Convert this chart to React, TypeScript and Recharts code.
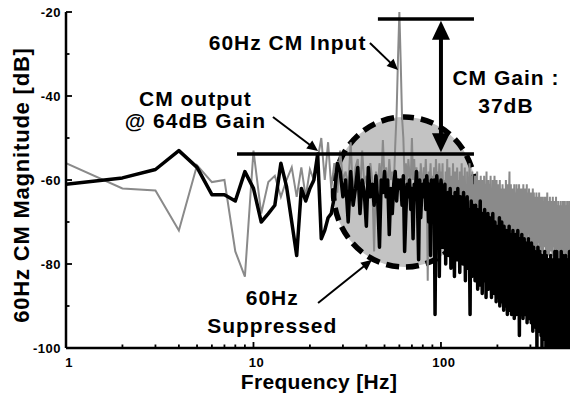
import React from 'react'
import { LineChart, Line, XAxis, YAxis, ReferenceLine, ReferenceDot } from 'recharts'

// FFT bins are 1 Hz apart, first bin = 1 Hz
const BIN_HZ = 1

// 60Hz CM input spectrum (gray), dB, bins 1..500
const CM_INPUT = [
  -56, -62, -62.5, -72, -56.5, -60.5, -60, -77, -83, -53,
  -68, -60.5, -59, -64, -60, -57, -64, -57, -64, -57.5,
  -60, -55, -50, -60, -51, -62, -56, -63, -53, -60,
  -58, -62, -51, -64, -57, -55, -63, -53, -61, -59,
  -62, -56, -60, -77, -58, -62, -56, -61, -50.5, -60,
  -57, -63, -55, -60, -58, -62, -52, -44, -31, -20,
  -32, -45, -50, -60, -56, -62, -55, -59, -60, -50,
  -60, -55, -63, -57, -61, -58, -64, -56, -60, -62,
  -57, -60, -55, -62, -84, -58, -61, -56, -63, -59,
  -61, -57, -64, -55, -60, -58, -62, -56, -60, -58,
  -62, -56, -68, -60, -71, -58, -65, -55, -69, -61,
  -57, -66, -72, -59, -63, -56, -70, -62, -58, -67,
  -64, -57, -71, -60, -66, -58, -69, -62, -56, -65,
  -70, -59, -63, -57, -68, -61, -72, -58, -64, -60,
  -67, -56, -62, -70, -59, -65, -58, -71, -61, -63,
  -66, -59, -72, -61, -68, -58, -70, -63, -60, -73,
  -62, -67, -59, -71, -64, -60, -74, -62, -69, -59,
  -65, -72, -61, -68, -58, -70, -63, -84, -60, -66,
  -73, -61, -67, -59, -71, -64, -62, -74, -60, -68,
  -63, -70, -59, -66, -72, -61, -65, -60, -73, -62,
  -68, -61, -74, -64, -70, -60, -66, -75, -62, -69,
  -65, -73, -61, -67, -71, -63, -76, -62, -68, -64,
  -72, -60, -66, -74, -63, -69, -61, -75, -65, -70,
  -62, -58, -71, -64, -68, -61, -73, -66, -75, -63,
  -69, -62, -70, -65, -74, -61, -67, -72, -64, -76,
  -63, -68, -61, -71, -66, -74, -62, -69, -65, -73,
  -61, -70, -64, -75, -62, -68, -72, -63, -66, -74,
  -62, -69, -65, -73, -61, -70, -67, -76, -63, -71,
  -66, -62, -74, -68, -64, -72, -61, -75, -67, -70,
  -63, -73, -65, -69, -62, -76, -68, -64, -71, -66,
  -74, -63, -70, -66, -77, -64, -72, -68, -62, -75,
  -67, -71, -63, -76, -69, -65, -73, -78, -64, -70,
  -66, -74, -63, -71, -68, -77, -65, -72, -69, -64,
  -75, -67, -70, -63, -78, -66, -73, -69, -64, -76,
  -68, -72, -65, -77, -70, -64, -74, -67, -71, -66,
  -78, -65, -69, -73, -64, -76, -68, -71, -66, -75,
  -70, -64, -77, -67, -72, -65, -74, -69, -63, -78,
  -68, -73, -66, -76, -70, -65, -72, -78, -67, -71,
  -64, -75, -69, -73, -66, -77, -70, -65, -74, -68,
  -72, -66, -78, -69, -64, -75, -71, -67, -76, -70,
  -66, -74, -69, -79, -65, -72, -77, -68, -75, -70,
  -64, -78, -71, -67, -76, -69, -80, -66, -73, -70,
  -75, -65, -72, -79, -68, -74, -66, -77, -70, -73,
  -67, -80, -69, -75, -65, -72, -78, -68, -74, -71,
  -66, -76, -70, -79, -67, -73, -65, -77, -71, -74,
  -68, -80, -66, -72, -76, -69, -78, -65, -74, -70,
  -73, -67, -79, -71, -66, -75, -69, -80, -68, -72,
  -65, -77, -70, -74, -67, -79, -72, -66, -76, -69,
  -71, -78, -65, -73, -80, -68, -75, -70, -66, -77,
  -72, -67, -79, -69, -74, -65, -78, -71, -68, -76,
]

// CM output spectrum (black), dB, bins 1..500
const CM_OUTPUT = [
  -61, -59.5, -57.5, -53, -57, -63.5, -63.5, -65, -58, -62,
  -70, -68, -66, -56, -61.5, -70, -78, -62, -65, -62,
  -60, -53.8, -74, -72, -69, -68, -64, -56, -58, -64,
  -60, -70, -58, -66, -62, -57, -68, -60, -63, -71,
  -57, -64, -61, -66, -59, -65, -76, -60, -63, -58,
  -64, -60, -73, -62, -68, -61, -58, -65, -60, -62,
  -60, -66, -59, -77, -68, -61, -64, -60, -67, -62,
  -74, -61, -63, -58, -66, -79, -60, -69, -63, -61,
  -64, -60, -67, -59, -63, -70, -61, -78, -60, -66,
  -62, -60, -92, -65, -59, -63, -61, -83, -64, -60,
  -62, -76, -65, -71, -61, -80, -66, -73, -63, -78,
  -68, -62, -81, -70, -64, -76, -67, -83, -63, -72,
  -66, -79, -62, -74, -69, -82, -64, -77, -70, -65,
  -80, -63, -73, -68, -84, -66, -75, -64, -81, -70,
  -67, -78, -92, -69, -65, -83, -72, -66, -80, -71,
  -68, -84, -66, -76, -81, -67, -86, -71, -69, -82,
  -74, -65, -85, -77, -70, -87, -68, -79, -74, -84,
  -67, -81, -72, -88, -70, -77, -83, -68, -86, -73,
  -78, -69, -85, -75, -71, -88, -74, -80, -68, -84,
  -76, -72, -87, -70, -81, -74, -89, -71, -79, -85,
  -72, -88, -75, -82, -69, -90, -77, -73, -86, -79,
  -70, -89, -76, -83, -74, -91, -71, -81, -87, -75,
  -78, -90, -72, -84, -79, -92, -74, -88, -77, -82,
  -71, -91, -80, -75, -89, -73, -85, -92, -76, -83,
  -79, -72, -90, -81, -74, -93, -77, -86, -80, -73,
  -88, -78, -92, -75, -84, -90, -72, -82, -91, -76,
  -85, -97, -79, -74, -89, -82, -92, -77, -87, -73,
  -90, -80, -76, -93, -84, -78, -91, -74, -88, -81,
  -77, -92, -85, -75, -90, -82, -79, -94, -76, -86,
  -80, -91, -74, -88, -83, -93, -78, -86, -92, -77,
  -87, -79, -94, -75, -89, -83, -92, -78, -96, -81,
  -88, -76, -93, -84, -80, -95, -77, -90, -86, -82,
  -94, -78, -89, -83, -100, -80, -93, -87, -76, -96,
  -84, -91, -79, -95, -82, -88, -77, -94, -85, -92,
  -80, -97, -83, -89, -78, -100, -86, -93, -81, -96,
  -87, -79, -95, -84, -91, -82, -98, -77, -90, -85,
  -94, -81, -100, -86, -78, -96, -88, -83, -93, -80,
  -97, -85, -90, -79, -95, -87, -100, -82, -92, -84,
  -98, -80, -89, -94, -78, -96, -86, -100, -83, -93,
  -88, -79, -97, -84, -91, -81, -100, -89, -85, -95,
  -82, -97, -87, -92, -77, -96, -85, -100, -80, -94,
  -89, -83, -98, -77, -91, -86, -100, -81, -95, -88,
  -84, -99, -79, -93, -87, -96, -82, -100, -90, -85,
  -97, -80, -94, -86, -100, -83, -91, -77, -98, -88,
  -84, -95, -81, -99, -87, -92, -78, -100, -86, -96,
  -82, -91, -98, -85, -89, -79, -100, -94, -84, -97,
  -87, -78, -95, -90, -100, -83, -98, -86, -92, -80,
  -99, -88, -84, -100, -91, -79, -96, -87, -93, -85,
  -100, -83, -97, -89, -77, -95, -86, -100, -92, -84,
  -98, -82, -91, -87, -100, -85, -94, -78, -99, -88,
]

const X_TICKS = [1, 2, 3, 4, 5, 6, 7, 8, 9, 10, 20, 30, 40, 50, 60, 70, 80, 90, 100, 200, 300, 400, 500]
const X_LABELS = [1, 10, 100]
const Y_TICKS = [-100, -90, -80, -70, -60, -50, -40, -30, -20]
const Y_LABELS = [-100, -80, -60, -40, -20]

const rows = CM_INPUT.map((v, i) => ({ f: (i + 1) * BIN_HZ, input: v, output: CM_OUTPUT[i] }))

const FONT = '"Liberation Sans", Arial, Helvetica, sans-serif'

const BottomTick = ({ x, y, payload }: any) => {
  const major = X_LABELS.includes(payload.value)
  return (
    <g>
      <line x1={x} y1={y} x2={x} y2={y - (major ? 6 : 3.5)} stroke="#000" strokeWidth={1.8} />
      {major && (
        <text x={x + 3} y={y + 19} textAnchor="middle" fontFamily={FONT} fontWeight="bold" fontSize={13} letterSpacing={0.5} fill="#000">
          {payload.value}
        </text>
      )}
    </g>
  )
}

const TopTick = ({ x, y, payload }: any) => {
  const major = X_LABELS.includes(payload.value)
  return <line x1={x} y1={y} x2={x} y2={y + (major ? 6 : 3.5)} stroke="#000" strokeWidth={1.8} />
}

const LeftTick = ({ x, y, payload }: any) => {
  const major = Y_LABELS.includes(payload.value)
  return (
    <g>
      <line x1={x} y1={y} x2={x + (major ? 6 : 3.5)} y2={y} stroke="#000" strokeWidth={1.8} />
      {major && (
        <text x={x - 5} y={y + 4.6} textAnchor="end" fontFamily={FONT} fontWeight="bold" fontSize={13} letterSpacing={0.5} fill="#000">
          {payload.value}
        </text>
      )}
    </g>
  )
}

const RightTick = ({ x, y, payload }: any) => {
  const major = Y_LABELS.includes(payload.value)
  return <line x1={x} y1={y} x2={x - (major ? 6 : 3.5)} y2={y} stroke="#000" strokeWidth={1.8} />
}

const XTitle = ({ viewBox }: any) => (
  <text x={viewBox.x + viewBox.width / 2} y={viewBox.y + 41} textAnchor="middle" fontFamily={FONT} fontWeight="bold" fontSize={21} letterSpacing={0.35} fill="#000">
    Frequency [Hz]
  </text>
)

const YTitle = ({ viewBox }: any) => {
  const cx = 29
  const cy = viewBox.y + viewBox.height / 2 + 5
  return (
    <text x={cx} y={cy} transform={`rotate(-90, ${cx}, ${cy})`} textAnchor="middle" fontFamily={FONT} fontWeight="bold" fontSize={22} letterSpacing={0.8} fill="#000">
      60Hz CM Magnitude [dB]
    </text>
  )
}

// arrow drawn along a reference segment
const arrowShape = (head: number, half: number, width: number, both: boolean) => (p: any) => {
  const { x1, y1, x2, y2 } = p
  const len = Math.hypot(x2 - x1, y2 - y1) || 1
  const ux = (x2 - x1) / len
  const uy = (y2 - y1) / len
  const tri = (tx: number, ty: number, dx: number, dy: number) => {
    const bx = tx - dx * head
    const by = ty - dy * head
    return `${tx},${ty} ${bx - dy * half},${by + dx * half} ${bx + dy * half},${by - dx * half}`
  }
  const sx = both ? x1 + ux * head * 0.8 : x1
  const sy = both ? y1 + uy * head * 0.8 : y1
  return (
    <g>
      <line x1={sx} y1={sy} x2={x2 - ux * head * 0.8} y2={y2 - uy * head * 0.8} stroke="#000" strokeWidth={width} />
      <polygon points={tri(x2, y2, ux, uy)} fill="#000" />
      {both && <polygon points={tri(x1, y1, -ux, -uy)} fill="#000" />}
    </g>
  )
}

const textShape = (lines: string[], gap: number) => (p: any) => (
  <text x={p.cx} y={p.cy} textAnchor="middle" fontFamily={FONT} fontWeight="bold" fontSize={21} letterSpacing={1} fill="#000">
    {lines.map((l, i) => (
      <tspan key={i} x={p.cx} dy={i === 0 ? 0 : gap}>{l}</tspan>
    ))}
  </text>
)

const circleShape = (p: any) => (
  <ellipse cx={p.cx} cy={p.cy} rx={71} ry={75} fill="#c3c3c3" stroke="#000" strokeWidth={5.5} strokeDasharray="13 7" />
)

const hLine = (p: any) => <line x1={p.x1} y1={p.y1} x2={p.x2} y2={p.y2} stroke="#000" strokeWidth={3.5} />

export default function App() {
  return (
    <div style={{ position: 'fixed', left: 0, top: 0, width: 570, height: 397, overflow: 'hidden', background: '#fff' }}>
      <LineChart width={580} height={397} data={rows} margin={{ top: 12, right: 8, left: 0, bottom: 0 }}>
        <XAxis
          dataKey="f"
          type="number"
          scale="log"
          domain={[1, 500]}
          allowDataOverflow
          ticks={X_TICKS}
          interval={0}
          height={49}
          tickSize={0}
          tickMargin={0}
          tickLine={false}
          axisLine={{ stroke: '#000', strokeWidth: 2.5 }}
          tick={(p: any) => <BottomTick {...p} />}
          label={<XTitle />}
        />
        <XAxis
          xAxisId="top"
          orientation="top"
          dataKey="f"
          type="number"
          scale="log"
          domain={[1, 500]}
          allowDataOverflow
          ticks={X_TICKS}
          interval={0}
          height={0}
          tickSize={0}
          tickMargin={0}
          tickLine={false}
          axisLine={{ stroke: '#000', strokeWidth: 2.5 }}
          tick={(p: any) => <TopTick {...p} />}
        />
        <YAxis
          type="number"
          domain={[-100, -20]}
          allowDataOverflow
          ticks={Y_TICKS}
          interval={0}
          width={66}
          tickSize={0}
          tickMargin={0}
          tickLine={false}
          axisLine={{ stroke: '#000', strokeWidth: 2.5 }}
          tick={(p: any) => <LeftTick {...p} />}
          label={<YTitle />}
        />
        <YAxis
          yAxisId="right"
          orientation="right"
          type="number"
          domain={[-100, -20]}
          allowDataOverflow
          ticks={Y_TICKS}
          interval={0}
          width={0}
          tickSize={0}
          tickMargin={0}
          tickLine={false}
          axisLine={{ stroke: '#000', strokeWidth: 2.5 }}
          tick={(p: any) => <RightTick {...p} />}
        />

        <ReferenceDot x={63.9} y={-62.86} r={73} shape={circleShape} ifOverflow="visible" zIndex={50} />

        <Line dataKey="input" stroke="#8a8a8a" strokeWidth={2} dot={false} activeDot={false} isAnimationActive={false} />
        <Line dataKey="output" stroke="#000" strokeWidth={3.5} strokeLinejoin="round" dot={false} activeDot={false} isAnimationActive={false} />

        <ReferenceLine segment={[{ x: 46.1, y: -21.67 }, { x: 150, y: -21.67 }]} shape={hLine} ifOverflow="visible" zIndex={700} />
        <ReferenceLine segment={[{ x: 8.17, y: -53.8 }, { x: 150, y: -53.8 }]} shape={hLine} ifOverflow="visible" zIndex={700} />
        <ReferenceLine segment={[{ x: 100, y: -22.1 }, { x: 100, y: -53.4 }]} shape={arrowShape(19, 9, 4, true)} ifOverflow="visible" zIndex={700} />
        <ReferenceLine segment={[{ x: 41.8, y: -27.4 }, { x: 59, y: -33.8 }]} shape={arrowShape(11, 5, 2, false)} ifOverflow="visible" zIndex={700} />
        <ReferenceLine segment={[{ x: 12.7, y: -45 }, { x: 22.1, y: -53.1 }]} shape={arrowShape(11, 5, 2, false)} ifOverflow="visible" zIndex={700} />
        <ReferenceLine segment={[{ x: 22.1, y: -89.3 }, { x: 42.9, y: -79 }]} shape={arrowShape(11, 5, 2, false)} ifOverflow="visible" zIndex={700} />

        <ReferenceDot x={15.2} y={-29.05} r={1} shape={textShape(['60Hz CM Input'], 0)} ifOverflow="visible" zIndex={800} />
        <ReferenceDot x={4.9} y={-42.4} r={1} shape={textShape(['CM output', '@ 64dB Gain'], 22)} ifOverflow="visible" zIndex={800} />
        <ReferenceDot x={222} y={-37.4} r={1} shape={textShape(['CM Gain :', '37dB'], 28)} ifOverflow="visible" zIndex={800} />
        <ReferenceDot x={12.6} y={-89.8} r={1} shape={textShape(['60Hz', 'Suppressed'], 28)} ifOverflow="visible" zIndex={800} />
      </LineChart>
    </div>
  )
}
